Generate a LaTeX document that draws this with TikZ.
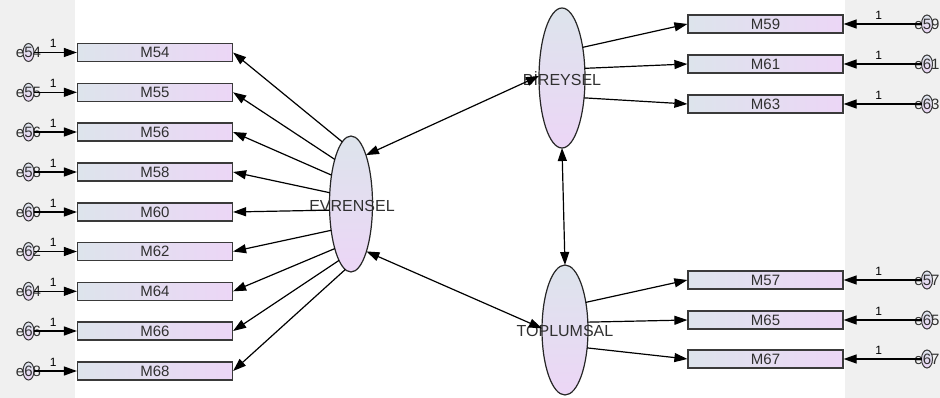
\documentclass[tikz,border=0pt]{standalone}
\usepackage{fontspec}
\setmainfont{Liberation Sans}
\usetikzlibrary{arrows.meta,shapes.geometric}
\definecolor{bgg}{HTML}{F0F0F0}
\definecolor{lb}{HTML}{DDE4EC}
\definecolor{lp}{HTML}{ECD6F6}
\definecolor{edgec}{HTML}{3A3A3A}
\definecolor{txtc}{HTML}{303030}
\tikzset{
 obs/.style={draw=edgec, line width=1.2pt, left color=lb, right color=lp, minimum width=155pt, minimum height=18pt, inner sep=0pt, text=txtc, font=\fontsize{15}{15}\selectfont},
 lat/.style={ellipse, draw=black!85, line width=1.2pt, top color=lb, bottom color=lp, inner sep=0pt, outer sep=0pt},
 err/.style={ellipse, draw=edgec, line width=1pt, top color=lb, bottom color=lp, minimum width=11pt, minimum height=18pt, inner sep=0pt, outer sep=0pt},
 errlbl/.style={font=\fontsize{15}{15}\selectfont, text=txtc, inner sep=0pt},
 latlbl/.style={font=\fontsize{16}{16}\selectfont, text=txtc, inner sep=0pt},
 arr/.style={-{Triangle[length=13pt,width=9pt]}, line width=1.2pt},
 darr/.style={{Triangle[length=13pt,width=9pt]}-{Triangle[length=13pt,width=9pt]}, line width=1.2pt},
 one/.style={font=\fontsize{12}{12}\selectfont, inner sep=0pt},
}
\begin{document}
\begin{tikzpicture}[x=1pt,y=-1pt]
\useasboundingbox (0,0) rectangle (940,398);
\fill[bgg] (0,0) rectangle (75,398);
\fill[bgg] (845,0) rectangle (940,398);
% latent variables
\node[lat, minimum width=43pt, minimum height=136pt] (evr) at (351,204) {};
\node[lat, minimum width=46pt, minimum height=140pt] (bir) at (562,78) {};
\node[lat, minimum width=46pt, minimum height=130pt] (top) at (565,330) {};
\node[latlbl] (evrt) at (352,206) {EVRENSEL};
\node[latlbl] (birt) at (562,79) {BİREYSEL};
\node[latlbl] (topt) at (565,331) {TOPLUMSAL};
% left indicators
\foreach \n/\y/\a in {54/52.5/98.7, 55/92.3/110, 56/132/124.3, 58/172/152, 60/212/196, 62/251.5/233, 64/291.3/250, 66/331/258.7, 68/371/265.6}{
  \node[obs] (m\n) at (155,\y) {M\n};
  \node[err] (e\n) at (28.5,\y) {};
  \node[errlbl] (e\n t) at (28.5,\y) {e\n};
  \draw[arr] (e\n) -- node[one, above=4pt, pos=0.45] (o\n) {1} (m\n);
  \draw[arr] (evr.\a) -- (m\n.east);
}
% right indicators of BIREYSEL
\foreach \n/\y/\a in {59/24/56.4, 61/64/23.7, 63/104/-42.3}{
  \node[obs] (m\n) at (765.5,\y) {M\n};
  \node[err] (e\n) at (927,\y) {};
  \node[errlbl] (e\n t) at (927,\y) {e\n};
  \draw[arr] (e\n) -- node[one, above=4pt, pos=0.55] (o\n) {1} (m\n);
  \draw[arr] (bir.\a) -- (m\n.west);
}
% right indicators of TOPLUMSAL
\foreach \n/\y/\a in {57/280/53.4, 65/320/19.3, 67/359/-39.2}{
  \node[obs] (m\n) at (765.5,\y) {M\n};
  \node[err] (e\n) at (927,\y) {};
  \node[errlbl] (e\n t) at (927,\y) {e\n};
  \draw[arr] (e\n) -- node[one, above=4pt, pos=0.55] (o\n) {1} (m\n);
  \draw[arr] (top.\a) -- (m\n.west);
}
% covariances
\draw[darr] (evr.73) -- (bir.175);
\draw[darr] (evr.-72) -- (top.176);
\draw[darr] (bir.-90) -- (top.90);
\end{tikzpicture}
\end{document}
